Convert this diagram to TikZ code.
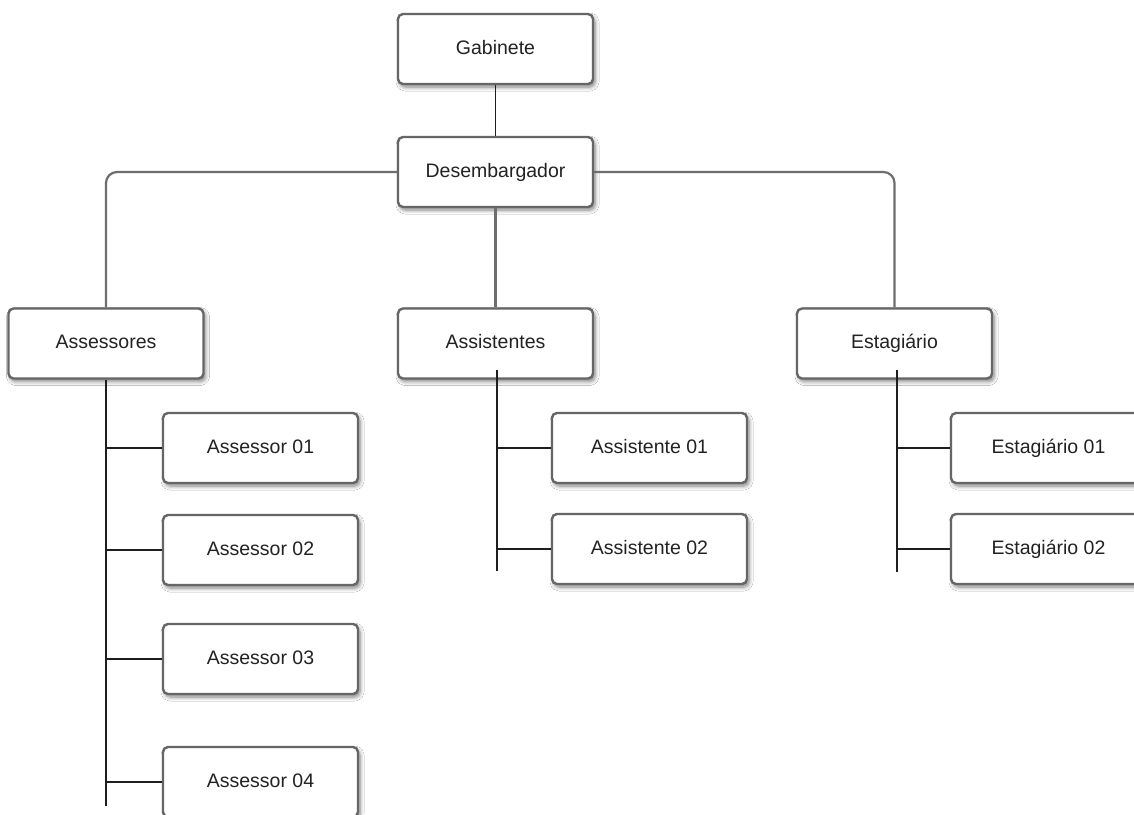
\documentclass[tikz,border=0pt]{standalone}
\usepackage{fontspec}
\setmainfont{Liberation Sans}
\usetikzlibrary{shadows.blur}
\definecolor{boxline}{HTML}{666666}
\definecolor{txt}{HTML}{222222}
\definecolor{mainline}{HTML}{6E6E6E}
\definecolor{subline}{HTML}{1E1E1E}
\tikzset{
  orgbox/.style={draw=boxline, line width=2.4pt, fill=white, rounded corners=5pt,
    minimum width=195pt, minimum height=70pt, inner sep=0pt, text=txt,
    text height=13.5pt, text depth=3.5pt,
    font=\fontsize{19.5}{21}\selectfont,
    blur shadow={shadow xshift=2pt, shadow yshift=-3pt, shadow blur steps=6, shadow opacity=50, shadow blur radius=4pt}},
  mainconn/.style={draw=mainline, line width=2.2pt, rounded corners=11pt},
  subconn/.style={draw=subline, line width=1.3pt},
}
\begin{document}
\begin{tikzpicture}[x=1pt,y=-1pt]
\useasboundingbox (0,0) rectangle (1134,814);
\clip (0,0) rectangle (1134,814);
\fill[white] (0,0) rectangle (1134,814);

\node[orgbox] (gab) at (495.5,49) {Gabinete};
\node[orgbox] (des) at (495.5,172) {Desembargador};
\node[orgbox] (asr) at (106,343.5) {Assessores};
\node[orgbox] (ast) at (495.5,343.5) {Assistentes};
\node[orgbox] (est) at (894.5,343.5) {Estagiário};

\node[orgbox] (a1) at (260.5,448) {Assessor 01};
\node[orgbox] (a2) at (260.5,550) {Assessor 02};
\node[orgbox] (a3) at (260.5,659) {Assessor 03};
\node[orgbox] (a4) at (260.5,782) {Assessor 04};

\node[orgbox] (s1) at (649.5,448) {Assistente 01};
\node[orgbox] (s2) at (649.5,549) {Assistente 02};

\node[orgbox] (e1) at (1048.5,448) {Estagiário 01};
\node[orgbox] (e2) at (1048.5,549) {Estagiário 02};

\coordinate (aend) at (106,806);
\coordinate (sstart) at (497,370);
\coordinate (send) at (497,571);
\coordinate (estart) at (897,370);
\coordinate (eend) at (897,572);

% upper connectors
\draw[subconn] (gab.south) -- (des.north);
\draw[mainconn] (des.west) -| (asr.north);
\draw[mainconn] (des.east) -| (est.north);
\draw[mainconn] (des.south) -- (ast.north);

% Assessores
\draw[subconn] (asr.south) -- (aend);
\foreach \n in {a1,a2,a3,a4}{
  \draw[subconn] (\n.west) -- (\n.west -| aend);
}
% Assistentes
\draw[subconn] (sstart) -- (send);
\foreach \n in {s1,s2}{
  \draw[subconn] (\n.west) -- (\n.west -| send);
}
% Estagiario
\draw[subconn] (estart) -- (eend);
\foreach \n in {e1,e2}{
  \draw[subconn] (\n.west) -- (\n.west -| eend);
}
\end{tikzpicture}
\end{document}
